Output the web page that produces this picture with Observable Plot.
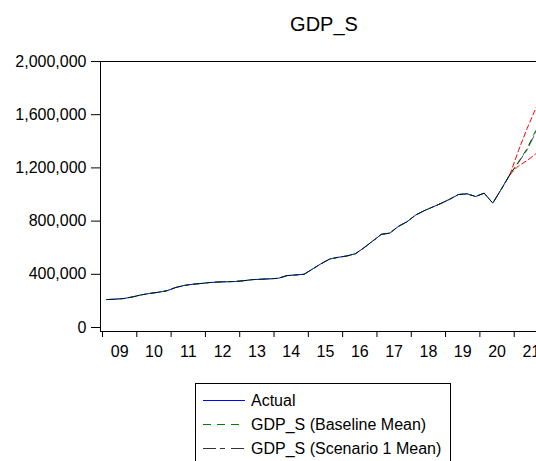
<!DOCTYPE html>
<html>
<head>
<meta charset="utf-8">
<script src="https://cdn.jsdelivr.net/npm/d3@7"></script>
<script src="https://cdn.jsdelivr.net/npm/@observablehq/plot@0.6"></script>
<style>
  html, body { margin: 0; padding: 0; overflow: hidden; background: #fff; width: 536px; height: 461px; }
  body { position: relative; font-family: "Liberation Sans", Arial, sans-serif; color: #000; }
  #title { position: absolute; left: 100px; width: 448px; top: 14px; text-align: center;
           font-size: 20px; line-height: 20px; white-space: nowrap; }
  #chart { position: absolute; left: 0; top: 45px; width: 556px; }
  #chart svg { max-width: none !important; }
  #legend { position: absolute; left: 195px; top: 383px; width: 256px; height: 110px;
            border: 1px solid #000; box-sizing: border-box; background: #fff; }
  .row { position: absolute; left: 0; height: 24px; line-height: 24px; font-size: 16px; white-space: nowrap; }
  .row .swatch { position: absolute; left: 7px; top: 11px; width: 42px; height: 1px; }
  .row span { position: absolute; left: 55px; }
</style>
</head>
<body>
<div id="title">GDP_S</div>
<div id="chart"></div>
<div id="legend"></div>
<script>
// Quarterly GDP_S, 2009Q1 onward
const firstYear = 2009;

// Actual observations, 2009Q1 – 2020Q4
const actual = [
  210000, 213000, 218000, 230000,
  245000, 256000, 265000, 276000,
  300000, 316000, 325000, 331000,
  338000, 342000, 344000, 346000,
  352000, 360000, 363000, 366000,
  370000, 390000, 395000, 400000,
  440000, 480000, 515000, 528000,
  538000, 555000, 600000, 650000,
  700000, 710000, 760000, 795000,
  845000, 878000, 906000, 934000,
  965000, 1000000, 1005000, 985000,
  1010000, 935000, 1040000, 1150000
];

// Stochastic simulation means, 2021Q1 – 2021Q4 (history follows the actuals)
const baselineForecast = [1245000, 1345000, 1480000, 1570000];
const scenario1Forecast = [1240000, 1335000, 1465000, 1555000];

// Baseline interval bounds, 2020Q4 – 2021Q4
const upperBound = [1150000, 1330000, 1495000, 1645000, 1790000];
const lowerBound = [1150000, 1215000, 1255000, 1305000, 1350000];
const boundStart = 47; // quarter index of 2020Q4

// Axis ticks
const yTicks = [0, 400000, 800000, 1200000, 1600000, 2000000];
const yearStarts = [2009, 2010, 2011, 2012, 2013, 2014, 2015, 2016, 2017, 2018, 2019, 2020, 2021, 2022];
const yearLabels = ["09", "10", "11", "12", "13", "14", "15", "16", "17", "18", "19", "20", "21"];

// Observation k sits in the middle of its quarter
const qx = k => firstYear + Math.floor(k / 4) + ((k % 4) + 0.5) / 4;

const actualRows = actual.map((v, k) => ({x: qx(k), v}));
const baselineRows = actual.concat(baselineForecast).map((v, k) => ({x: qx(k), v}));
const scenarioRows = actual.concat(scenario1Forecast).map((v, k) => ({x: qx(k), v}));
const upperRows = upperBound.map((v, i) => ({x: qx(boundStart + i), v}));
const lowerRows = lowerBound.map((v, i) => ({x: qx(boundStart + i), v}));

const font = "'Liberation Sans', Arial, sans-serif";

const chart = Plot.plot({
  width: 556,
  height: 330,
  marginLeft: 100,
  marginRight: 8,
  marginTop: 16,
  marginBottom: 44,
  insetLeft: 2,
  insetBottom: 4,
  style: {fontSize: "16px", fontFamily: font, color: "#000", background: "#fff", overflow: "visible", maxWidth: "none"},
  x: {type: "linear", domain: [2009, 2022]},
  y: {domain: [0, 2000000]},
  marks: [
    Plot.line(upperRows, {x: "x", y: "v", stroke: "#ff0000", strokeWidth: 1, strokeDasharray: "5,3", clip: true}),
    Plot.line(lowerRows, {x: "x", y: "v", stroke: "#ff0000", strokeWidth: 1, strokeDasharray: "5,3", clip: true}),
    Plot.line(actualRows, {x: "x", y: "v", stroke: "#0000ff", strokeWidth: 1, clip: true}),
    Plot.line(baselineRows, {x: "x", y: "v", stroke: "#008000", strokeWidth: 1, strokeDasharray: "6,5", clip: true}),
    Plot.line(scenarioRows, {x: "x", y: "v", stroke: "#000000", strokeWidth: 1, strokeOpacity: 0.7, strokeDasharray: "10,4,4,4", clip: true}),
    Plot.frame({stroke: "#000"}),
    Plot.axisY(yTicks, {tickSize: 9, tickPadding: 5, tickFormat: d3.format(","), label: null, stroke: "#000"}),
    Plot.axisX(yearStarts, {tickSize: 6, tickFormat: () => "", label: null, stroke: "#000"}),
    Plot.axisX(yearStarts.slice(0, -1).map(y => y + 0.5), {
      tickSize: 0, tickPadding: 14, label: null,
      tickFormat: d => yearLabels[Math.floor(d) - firstYear]
    })
  ]
});
document.getElementById("chart").appendChild(chart);

// Legend entries: solid, dashed and dash-dot samples
const legendItems = [
  {label: "Actual", bg: "#0000ff"},
  {label: "GDP_S (Baseline Mean)",
   bg: "repeating-linear-gradient(to right, #008000 0 8px, transparent 8px 14px)"},
  {label: "GDP_S (Scenario 1 Mean)",
   bg: "repeating-linear-gradient(to right, #333 0 13px, transparent 13px 17px, #333 17px 22px, transparent 22px 28px)"}
];
const legend = document.getElementById("legend");
legendItems.forEach((item, i) => {
  const row = document.createElement("div");
  row.className = "row";
  row.style.top = (5 + 24 * i) + "px";
  const swatch = document.createElement("div");
  swatch.className = "swatch";
  swatch.style.background = item.bg;
  const span = document.createElement("span");
  span.textContent = item.label;
  row.appendChild(swatch);
  row.appendChild(span);
  legend.appendChild(row);
});
</script>
</body>
</html>
